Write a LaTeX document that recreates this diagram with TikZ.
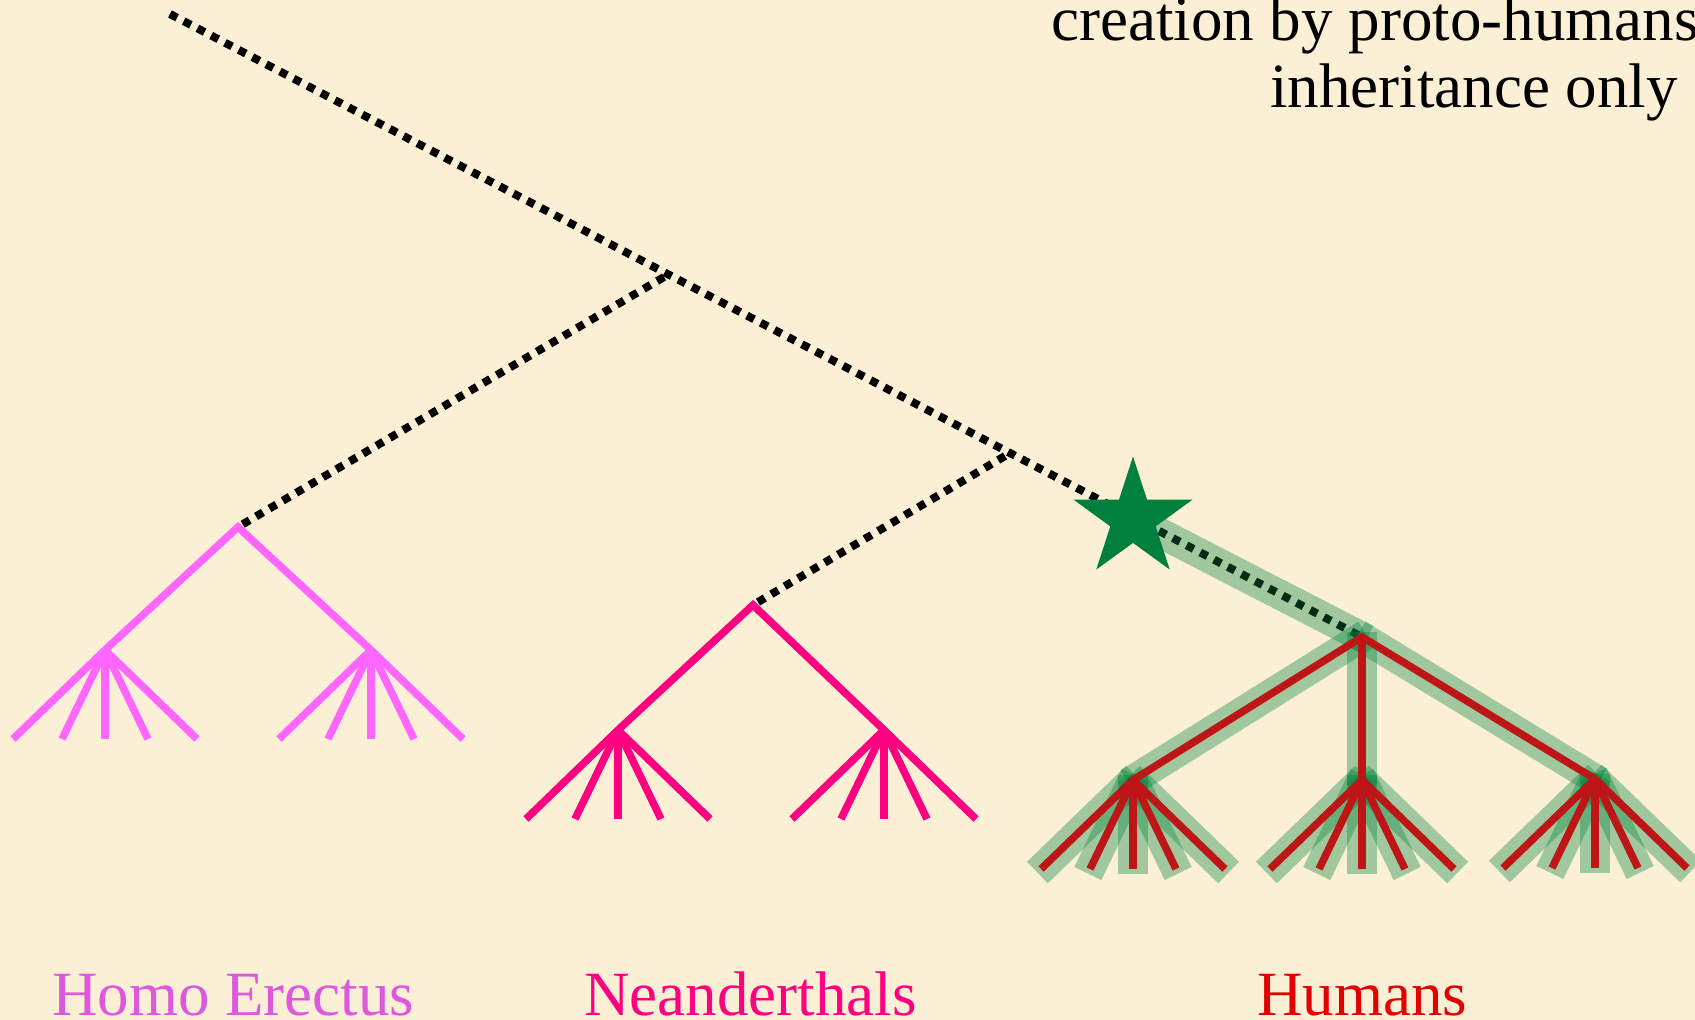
\documentclass[tikz,border=0pt]{standalone}
\usepackage{fontspec}
\setmainfont{Liberation Serif}
\usetikzlibrary{shapes.geometric}
\definecolor{bg}{RGB}{251,239,214}
\definecolor{erectus}{RGB}{255,102,255}
\definecolor{erectustxt}{RGB}{221,88,221}
\definecolor{neander}{RGB}{255,0,128}
\definecolor{humred}{RGB}{190,22,22}
\definecolor{humtxt}{RGB}{226,0,0}
\definecolor{stargreen}{RGB}{0,128,60}
\definecolor{bandgreen}{RGB}{0,130,60}
\newcommand\fanout[2]{\foreach \dx in {-92,-43,0,43,92} {\draw[#2] (#1) -- ++(\dx,89);}}
\begin{document}
\begin{tikzpicture}[x=1pt,y=-1pt,
  dotline/.style={line width=8pt, dash pattern=on 8pt off 7.5pt, black},
  ere/.style={line width=7.5pt, draw=erectus, line join=miter},
  nea/.style={line width=7.5pt, draw=neander, line join=miter},
  hred/.style={line width=7.5pt, draw=humred, line join=miter},
  band/.style={line width=30pt, draw=bandgreen, draw opacity=0.36, shorten <=-5pt, shorten >=-5pt},
  bigtxt/.style={font=\fontsize{63}{75}\selectfont, inner sep=0pt}]
\fill[bg] (0,0) rectangle (1695,1020);
\useasboundingbox (0,0) rectangle (1695,1020);

% coordinates
\coordinate (top) at (170,14);
\coordinate (j1) at (664,277);
\coordinate (j2) at (1005,456);
\coordinate (hr) at (1362,637);
\coordinate (er) at (238,527);
\coordinate (nr) at (753,605);
\coordinate (el) at (105,650);
\coordinate (eR) at (371,650);
\coordinate (nl) at (618,730);
\coordinate (nR) at (884,730);
\coordinate (hl) at (1133,780);
\coordinate (hm) at (1362,780);
\coordinate (hR) at (1595,779);

% texts
\node[bigtxt, anchor=base west] (t1) at (1051,40) {creation by proto-humans};
\node[bigtxt, anchor=base west] (t2) at (1270,107) {inheritance only};
\node[bigtxt, anchor=base west, text=erectustxt] (lbe) at (52,1015) {Homo Erectus};
\node[bigtxt, anchor=base west, text=neander] (lbn) at (584,1015) {Neanderthals};
\node[bigtxt, anchor=base west, text=humtxt] (lbh) at (1257,1015) {Humans};

% dotted lineage
\draw[dotline] (top) -- (hr);
\draw[dotline] (j1) -- (er);
\draw[dotline] (j2) -- (nr);

% Homo Erectus tree
\draw[ere] (el) -- (er) -- (eR);
\fanout{el}{ere}
\fanout{eR}{ere}

% Neanderthal tree
\draw[nea] (nl) -- (nr) -- (nR);
\fanout{nl}{nea}
\fanout{nR}{nea}

% star node
\node[star, star points=5, star point ratio=2.618, minimum size=125pt, inner sep=0pt] (star) at (1133,519) {};

% Human green bands
\draw[band, shorten <=0pt] (star.center) -- (hr);
\draw[band] (hr) -- (hl);
\draw[band] (hr) -- (hm);
\draw[band] (hr) -- (hR);
\fanout{hl}{band}
\fanout{hm}{band}
\fanout{hR}{band}

% Human red tree
\draw[hred] (hl) -- (hr) -- (hR);
\draw[hred] (hr) -- (hm);
\fanout{hl}{hred}
\fanout{hm}{hred}
\fanout{hR}{hred}

% star on top
\node[star, star points=5, star point ratio=2.618, minimum size=125pt, inner sep=0pt, fill=stargreen] (starfill) at (star.center) {};
\end{tikzpicture}
\end{document}
